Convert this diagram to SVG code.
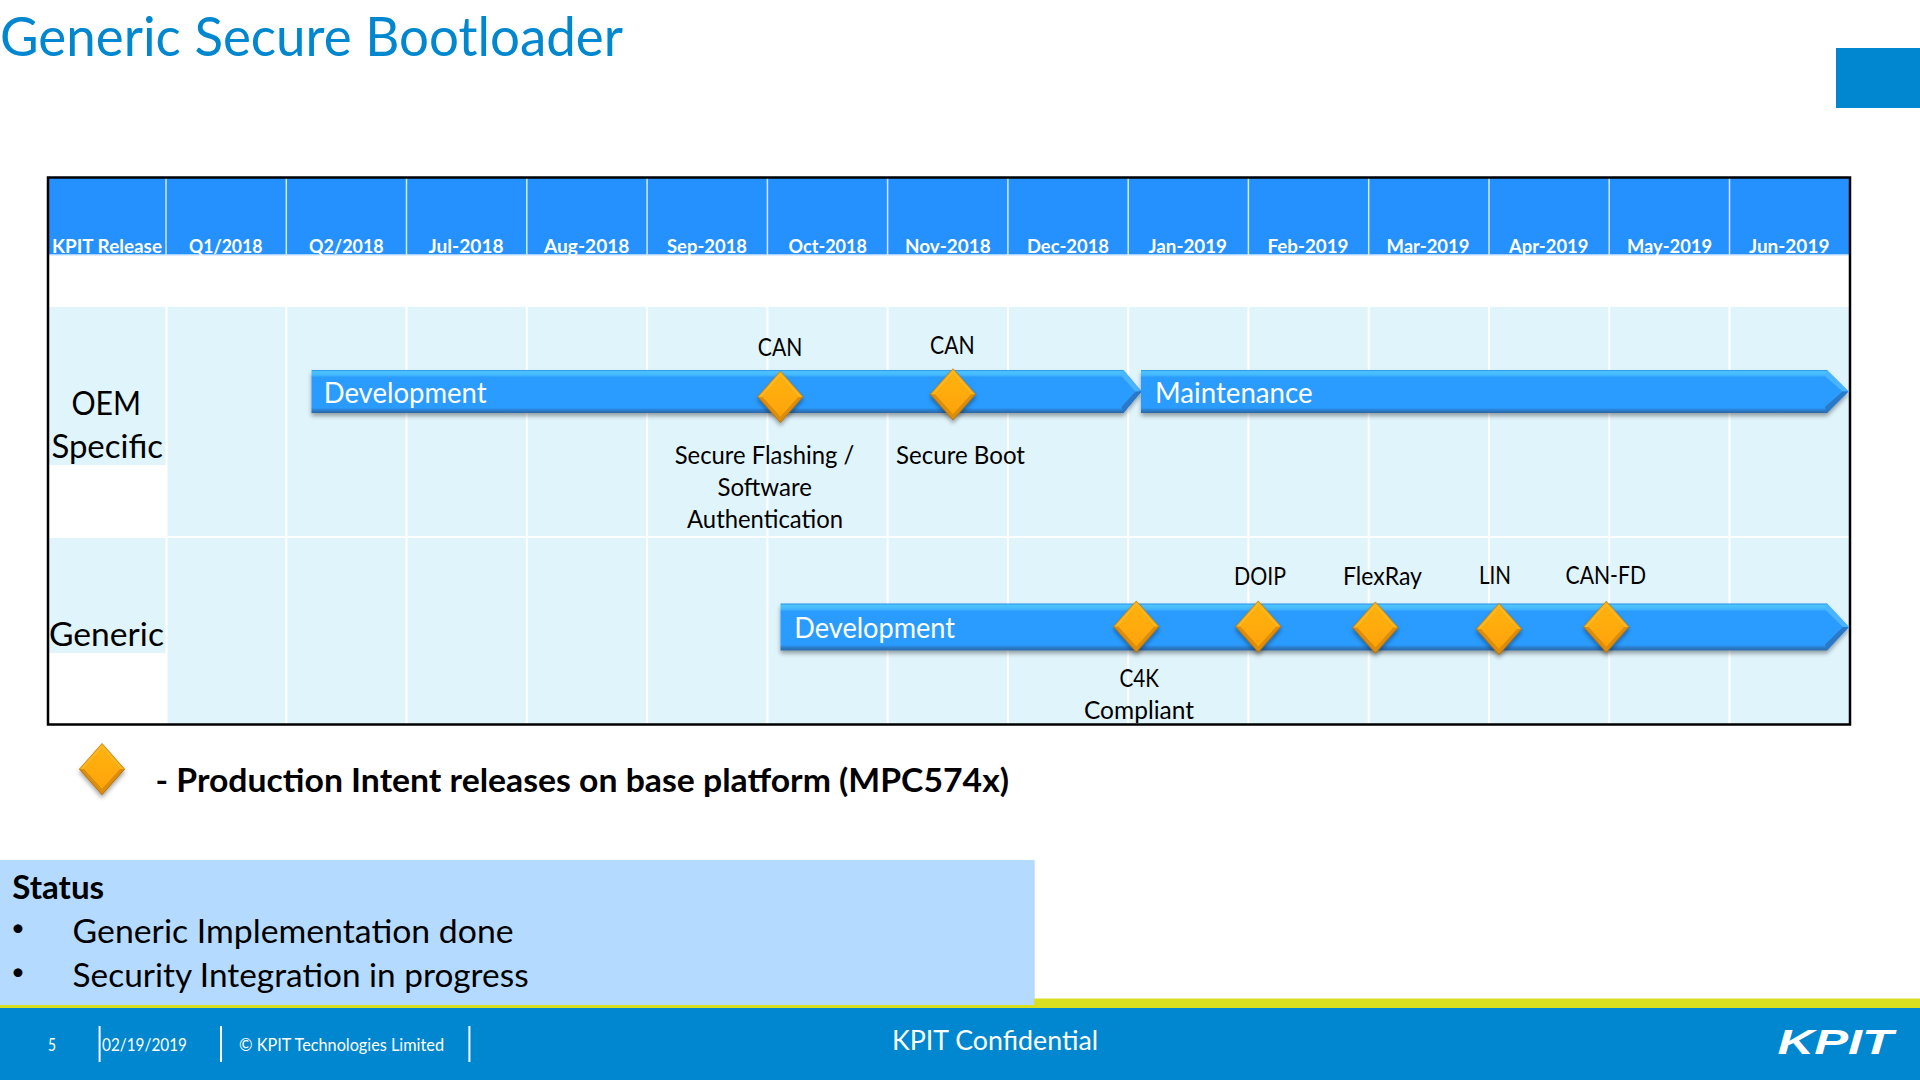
<svg xmlns="http://www.w3.org/2000/svg" width="1920" height="1080" viewBox="0 0 1920 1080">
<style>
text{font-family:"Lato","Carlito","Noto Sans",sans-serif;fill:#000;font-size:25px}
.hd{fill:#fff;font-weight:700;font-size:19px}
.bar{fill:#fff;font-size:29px}
.side{font-size:33px}
.body{font-size:32px}
.foot{fill:#fff;font-size:16.5px}
.gl{stroke:#fff;stroke-width:2;fill:none}
.ghd{stroke:#d4e8ff;stroke-width:1.5;fill:none}
.sep{stroke:#fff;stroke-width:2}
.hi{fill:#4ab4ff}
.lo{fill:#2a78c6}
</style>
<defs>
<linearGradient id="barG" x1="0" y1="0" x2="0" y2="1">
<stop offset="0" stop-color="#2a8fe8"/><stop offset=".04" stop-color="#4cc4ff"/><stop offset=".12" stop-color="#42b6ff"/><stop offset=".17" stop-color="#2a9cff"/><stop offset=".88" stop-color="#2a9cff"/><stop offset=".93" stop-color="#2b80d2"/><stop offset="1" stop-color="#2a67a6"/>
</linearGradient>
<linearGradient id="diaG" x1="0" y1="0" x2="0" y2="1">
<stop offset="0" stop-color="#ffb20f"/><stop offset="1" stop-color="#ffa305"/>
</linearGradient>
<filter id="sh" x="-10%" y="-30%" width="120%" height="170%"><feDropShadow dx="0" dy="3" stdDeviation="2" flood-color="#000" flood-opacity=".35"/></filter>
<g id="dia" filter="url(#sh)">
<polygon points="0,-26 23,0 0,26 -23,0" fill="#ad6c08"/>
<polygon points="0,-26 23,0 -23,0" fill="#d8930e"/>
<polygon points="0,-25 22,0 18,0 0,-20 -18,0 -22,0" fill="#ffb61a"/>
<polygon points="0,25 22,0 18,0 0,20 -18,0 -22,0" fill="#dc8d08"/>
<polygon points="0,-20 18,0 0,20 -18,0" fill="url(#diaG)"/>
</g>
</defs>

<rect width="1920" height="1080" fill="#fff"/>

<g id="title">
<text x="0" y="55.5" style="font-size:54px;fill:#0087cf" textLength="623" lengthAdjust="spacingAndGlyphs">Generic Secure Bootloader</text>
<rect x="1836" y="48" width="84" height="60" fill="#0087cf"/>
</g>

<g id="table">
<rect x="49" y="178" width="1800" height="77" fill="#2491ff"/>
<rect x="49" y="307" width="117" height="158" fill="#e0f4fc"/>
<rect x="49" y="537" width="117" height="116" fill="#e0f4fc"/>
<rect x="167" y="307" width="1682" height="417" fill="#e0f4fc"/>
<path class="ghd" d="M166 178V255M286.3 178V255M406.5 178V255M526.8 178V255M647.1 178V255M767.4 178V255M887.6 178V255M1007.9 178V255M1128.2 178V255M1248.4 178V255M1368.7 178V255M1489 178V255M1609.2 178V255M1729.5 178V255M49 255H1849"/>
<path class="gl" d="M166.5 307V724M286.3 307V724M406.5 307V724M526.8 307V724M647.1 307V724M767.4 307V724M887.6 307V724M1007.9 307V724M1128.2 307V724M1248.4 307V724M1368.7 307V724M1489 307V724M1609.2 307V724M1729.5 307V724M49 537H1849"/>
<g id="header-labels">
<text class="hd" x="52" y="253" textLength="110" lengthAdjust="spacingAndGlyphs">KPIT Release</text>
<text class="hd" x="189" y="253" textLength="73.5" lengthAdjust="spacingAndGlyphs">Q1/2018</text>
<text class="hd" x="309" y="253" textLength="74.7" lengthAdjust="spacingAndGlyphs">Q2/2018</text>
<text class="hd" x="428.6" y="253" textLength="75" lengthAdjust="spacingAndGlyphs">Jul-2018</text>
<text class="hd" x="544" y="253" textLength="85.4" lengthAdjust="spacingAndGlyphs">Aug-2018</text>
<text class="hd" x="667" y="253" textLength="80" lengthAdjust="spacingAndGlyphs">Sep-2018</text>
<text class="hd" x="788.6" y="253" textLength="78.4" lengthAdjust="spacingAndGlyphs">Oct-2018</text>
<text class="hd" x="905" y="253" textLength="85.6" lengthAdjust="spacingAndGlyphs">Nov-2018</text>
<text class="hd" x="1027" y="253" textLength="82" lengthAdjust="spacingAndGlyphs">Dec-2018</text>
<text class="hd" x="1148.6" y="253" textLength="78.4" lengthAdjust="spacingAndGlyphs">Jan-2019</text>
<text class="hd" x="1267.5" y="253" textLength="81" lengthAdjust="spacingAndGlyphs">Feb-2019</text>
<text class="hd" x="1386.5" y="253" textLength="83" lengthAdjust="spacingAndGlyphs">Mar-2019</text>
<text class="hd" x="1509" y="253" textLength="79.4" lengthAdjust="spacingAndGlyphs">Apr-2019</text>
<text class="hd" x="1627" y="253" textLength="85" lengthAdjust="spacingAndGlyphs">May-2019</text>
<text class="hd" x="1749" y="253" textLength="80.4" lengthAdjust="spacingAndGlyphs">Jun-2019</text>
</g>
<rect x="48" y="177.5" width="1802" height="547" fill="none" stroke="#000" stroke-width="2.5"/>
</g>

<g id="row-oem">
<text class="side" x="71.4" y="415" textLength="69.6" lengthAdjust="spacingAndGlyphs">OEM</text>
<text class="side" x="51.4" y="458" textLength="111.6" lengthAdjust="spacingAndGlyphs">Specific</text>
</g>
<g id="row-generic">
<text class="side" x="49" y="646" textLength="115" lengthAdjust="spacingAndGlyphs">Generic</text>
</g>

<g id="bar-oem-development">
<polygon points="311.5,370 1123.5,370 1141.5,391.5 1123.5,413 311.5,413" fill="url(#barG)" filter="url(#sh)"/>
<polygon class="hi" points="1123.5,370 1141.5,391.5 1135.5,391.5 1121.5,376"/>
<polygon class="lo" points="1123.5,413 1141.5,391.5 1135.5,391.5 1121.5,407"/>
<text class="bar" x="323.7" y="403" textLength="162.8" lengthAdjust="spacingAndGlyphs">Development</text>
</g>
<g id="bar-oem-maintenance">
<polygon points="1141,370 1827,370 1848.5,391.5 1827,413 1141,413" fill="url(#barG)" filter="url(#sh)"/>
<polygon class="hi" points="1827,370 1848.5,391.5 1842.5,391.5 1825,376"/>
<polygon class="lo" points="1827,413 1848.5,391.5 1842.5,391.5 1825,407"/>
<text class="bar" x="1155" y="403" textLength="157.6" lengthAdjust="spacingAndGlyphs">Maintenance</text>
</g>
<g id="bar-generic-development">
<polygon points="780.5,603.5 1827,603.5 1849,627 1827,650.5 780.5,650.5" fill="url(#barG)" filter="url(#sh)"/>
<polygon class="hi" points="1827,603.5 1849,627 1843,627 1825,609.5"/>
<polygon class="lo" points="1827,650.5 1849,627 1843,627 1825,644.5"/>
<text class="bar" x="794.3" y="638" textLength="160.7" lengthAdjust="spacingAndGlyphs">Development</text>
</g>

<g id="ms-can-flashing">
<use href="#dia" x="780.4" y="397"/>
<text x="757.8" y="355.5" textLength="44.5" lengthAdjust="spacingAndGlyphs">CAN</text>
<text x="674.7" y="464" textLength="179.6" lengthAdjust="spacingAndGlyphs">Secure Flashing /</text>
<text x="717.5" y="496" textLength="94.5" lengthAdjust="spacingAndGlyphs">Software</text>
<text x="687" y="528" textLength="156" lengthAdjust="spacingAndGlyphs">Authentication</text>
</g>
<g id="ms-can-boot">
<use href="#dia" x="953" y="394.5"/>
<text x="930" y="353.5" textLength="44.7" lengthAdjust="spacingAndGlyphs">CAN</text>
<text x="896" y="464" textLength="129" lengthAdjust="spacingAndGlyphs">Secure Boot</text>
</g>
<g id="ms-c4k">
<use href="#dia" x="1136.3" y="626.7"/>
<text x="1119.6" y="687" textLength="39.4" lengthAdjust="spacingAndGlyphs">C4K</text>
<text x="1084" y="719" textLength="110" lengthAdjust="spacingAndGlyphs">Compliant</text>
</g>
<g id="ms-doip">
<use href="#dia" x="1258.3" y="626.7"/>
<text x="1234" y="584.5" textLength="52" lengthAdjust="spacingAndGlyphs">DOIP</text>
</g>
<g id="ms-flexray">
<use href="#dia" x="1375.4" y="627.8"/>
<text x="1343" y="584.5" textLength="79" lengthAdjust="spacingAndGlyphs">FlexRay</text>
</g>
<g id="ms-lin">
<use href="#dia" x="1499" y="629.3"/>
<text x="1479" y="584" textLength="32" lengthAdjust="spacingAndGlyphs">LIN</text>
</g>
<g id="ms-can-fd">
<use href="#dia" x="1606.3" y="627"/>
<text x="1565.5" y="584" textLength="80.5" lengthAdjust="spacingAndGlyphs">CAN-FD</text>
</g>

<g id="legend">
<use href="#dia" x="102" y="769.3"/>
<text x="155.5" y="792" style="font-size:33px;font-weight:700" textLength="853.5" lengthAdjust="spacingAndGlyphs">- Production Intent releases on base platform (MPC574x)</text>
</g>

<g id="status">
<rect x="0" y="860" width="1034.7" height="146" fill="#b5daff"/>
<text class="body" x="12.2" y="899" style="font-weight:700" textLength="92" lengthAdjust="spacingAndGlyphs">Status</text>
<text x="18" y="936" text-anchor="middle" style="font-size:24px">•</text>
<text class="body" x="72.6" y="943" textLength="441" lengthAdjust="spacingAndGlyphs">Generic Implementation done</text>
<text x="18" y="980" text-anchor="middle" style="font-size:24px">•</text>
<text class="body" x="72.6" y="987" textLength="456" lengthAdjust="spacingAndGlyphs">Security Integration in progress</text>
</g>

<g id="footer">
<rect x="1034" y="998.5" width="886" height="9.5" fill="#d8de20"/>
<rect x="0" y="1005" width="1034" height="3" fill="#d8de20"/>
<rect x="0" y="1008" width="1920" height="72" fill="#0087cf"/>
<path class="sep" d="M99.6 1026V1062M221 1026V1062M469.4 1026V1062"/>
<text class="foot" x="48" y="1050.5" textLength="8" lengthAdjust="spacingAndGlyphs">5</text>
<text class="foot" x="102" y="1050.5" textLength="85" lengthAdjust="spacingAndGlyphs">02/19/2019</text>
<text class="foot" x="239" y="1050.5" textLength="205" lengthAdjust="spacingAndGlyphs">© KPIT Technologies Limited</text>
<text x="892" y="1050" style="fill:#fff;font-size:27px" textLength="206" lengthAdjust="spacingAndGlyphs">KPIT Confidential</text>
<text x="1777.5" y="1054" style="fill:#fff;font-family:'Liberation Sans',sans-serif;font-style:italic;font-weight:700;font-size:35px" textLength="115.6" lengthAdjust="spacingAndGlyphs">KPIT</text>
</g>
</svg>
